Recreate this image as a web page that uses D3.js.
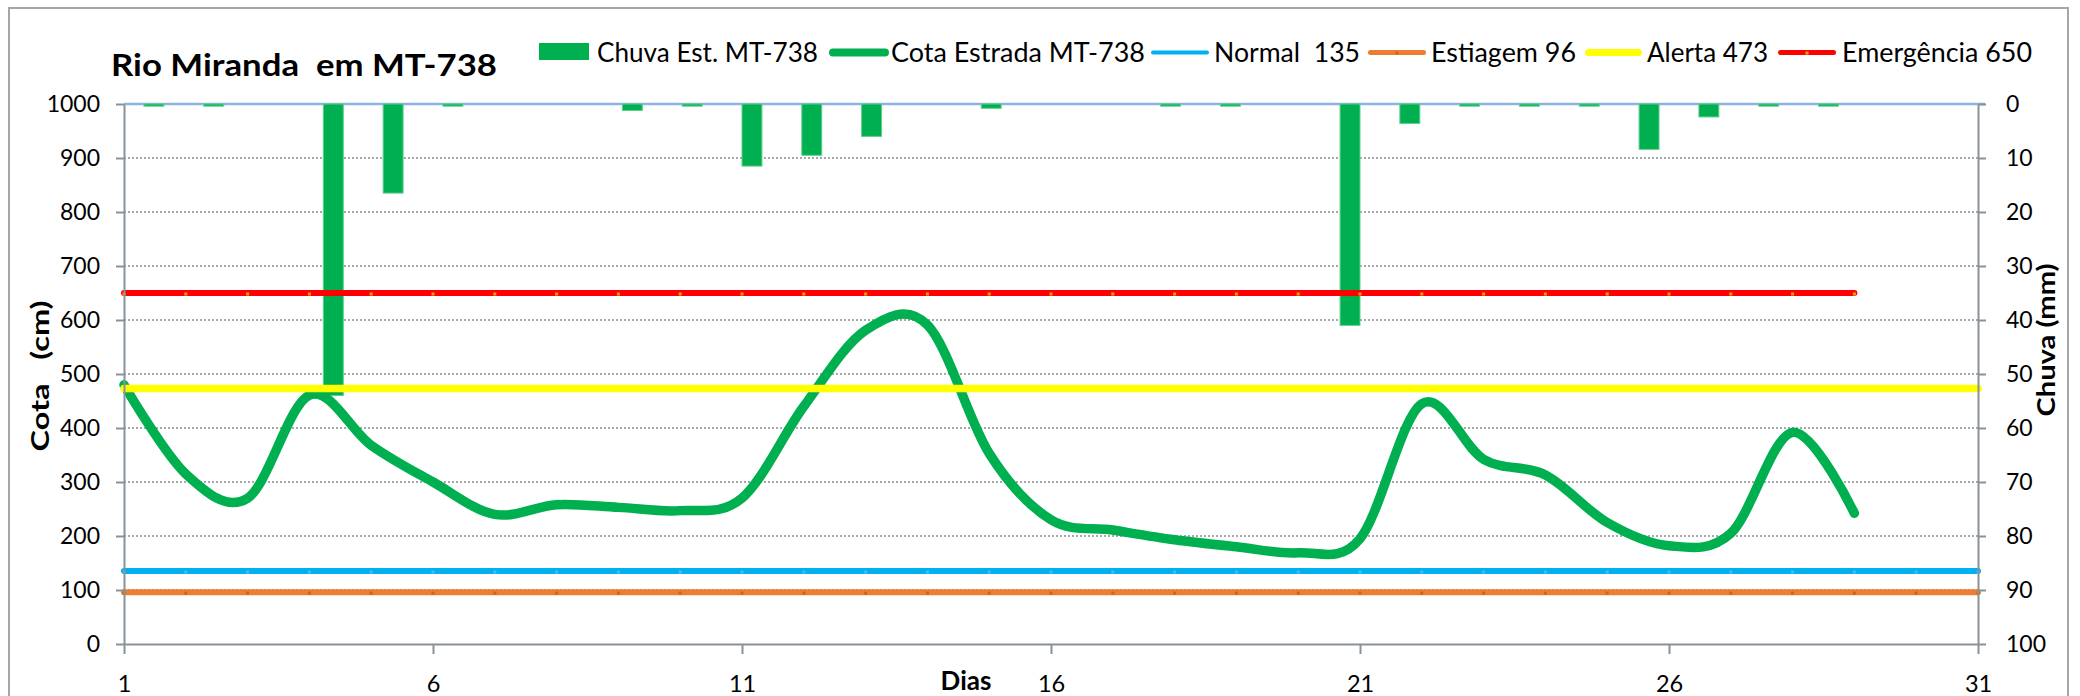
<!DOCTYPE html>
<html>
<head>
<meta charset="utf-8">
<script src="https://cdn.jsdelivr.net/npm/d3@7"></script>
<style>
html, body { margin: 0; padding: 0; background: #ffffff; }
svg { display: block; }
text { font-family: Lato, "Open Sans", "Liberation Sans", sans-serif; fill: #000; }
</style>
</head>
<body>
<svg id="chart" width="2080" height="696"></svg>
<script>
// ---------------- data ----------------
const dias = [1,2,3,4,5,6,7,8,9,10,11,12,13,14,15,16,17,18,19,20,21,22,23,24,25,26,27,28,29,30,31];
// Cota Estrada MT-738 (cm), days 1..29
const cota = [480,315,270,461,368,300,240,258,253,247,270,440,581,591,353,230,211,193,180,169,195,445,342,313,225,182,205,392,242];
// Chuva Est. MT-738 (mm), days 1..31
const chuva = [0.4,0.4,0,54,16.5,0.4,0,0,1.2,0.4,11.5,9.5,6,0,0.8,0,0,0.4,0.4,0,41,3.6,0.4,0.4,0.4,8.4,2.4,0.4,0.4,0,0];
// threshold series
const limiarNomes = ["Normal  135","Estiagem 96","Alerta 473","Emergência 650"];
const limiarValores = [135, 96, 473, 650];
const limiarUltimoDia = [31, 31, 31, 29];
// legend / axis labels
const serieNomes = ["Chuva Est. MT-738","Cota Estrada MT-738"];
const ticksCota = [0,100,200,300,400,500,600,700,800,900,1000];
const ticksChuva = [0,10,20,30,40,50,60,70,80,90,100];
const ticksDias = [1,6,11,16,21,26,31];
const titulo = "Rio Miranda  em MT-738";

// ---------------- layout ----------------
const L = 124, R = 1978, T = 104, B = 644;
const svg = d3.select("#chart");
svg.append("rect").attr("x",0).attr("y",0).attr("width",2080).attr("height",696).attr("fill","#fff");
// outer chart border
svg.append("rect").attr("x",9).attr("y",8).attr("width",2059).attr("height",740)
  .attr("fill","none").attr("stroke","#a6a6a6").attr("stroke-width",2);

const x = d3.scaleLinear().domain([1,31]).range([L,R]);
const xb = d3.scaleBand().domain(dias).range([L,R]).paddingInner(2/3).paddingOuter(1/3);
const yL = d3.scaleLinear().domain([0,1000]).range([B,T]);
const yR = d3.scaleLinear().domain([0,100]).range([T,B]);

const axisColor = "#8a9299";

// gridlines
svg.append("g").selectAll("line").data(ticksCota.filter(d => d > 0 && d < 1000)).join("line")
  .attr("x1", L).attr("x2", R).attr("y1", d => yL(d)).attr("y2", d => yL(d))
  .attr("stroke","#8c8c8c").attr("stroke-width",1.6).attr("stroke-dasharray","2,2");

// top secondary axis line (light blue)
svg.append("line").attr("x1", L).attr("x2", R + 7).attr("y1", yL(1000)).attr("y2", yL(1000))
  .attr("stroke","#8db4e2").attr("stroke-width",2.6);

// bars (rain, hanging from top)
svg.append("g").selectAll("rect").data(dias.map((d,i) => ({d, v: chuva[i]})).filter(o => o.v > 0)).join("rect")
  .attr("x", o => xb(o.d)).attr("width", xb.bandwidth())
  .attr("y", yR(0)).attr("height", o => yR(o.v) - yR(0))
  .attr("fill","#00b050").attr("stroke","#5ccf8c").attr("stroke-width",1);

// cota line (Excel-like smoothing = uniform Catmull-Rom)
const lineGen = d3.line().x((d,i) => x(dias[i])).y(d => yL(d)).curve(d3.curveCardinal.tension(0));
svg.append("path").datum(cota).attr("d", lineGen)
  .attr("fill","none").attr("stroke","#00b050").attr("stroke-width",9.5)
  .attr("stroke-linecap","round").attr("stroke-linejoin","round");

// thresholds
const limiarCores = ["#00b0f0","#ed7d31","#ffff00","#ff0000"];
const limiarLarg = [6,6,7.5,6];
const limiarMarc = ["#3cc0f4","#d9620e","#ffff00","#e8a800"];
limiarValores.forEach((v,k) => {
  const g = svg.append("g");
  const ds = dias.filter(d => d <= limiarUltimoDia[k]);
  g.append("line").attr("x1", x(1)).attr("x2", x(limiarUltimoDia[k])).attr("y1", yL(v)).attr("y2", yL(v))
    .attr("stroke", limiarCores[k]).attr("stroke-width", limiarLarg[k]).attr("stroke-linecap","round");
  g.selectAll("rect").data(ds).join("rect")
    .attr("x", d => x(d) - 1.5).attr("y", yL(v) - 0.5).attr("width",3).attr("height",3)
    .attr("fill", limiarMarc[k]);
});

// ---------------- axes ----------------
const axL = svg.append("g").attr("transform",`translate(${L},0)`)
  .call(d3.axisLeft(yL).tickValues(ticksCota).tickSize(8).tickSizeOuter(0).tickPadding(16).tickFormat(d3.format("d")));
const axR = svg.append("g").attr("transform",`translate(${R},0)`)
  .call(d3.axisRight(yR).tickValues(ticksChuva).tickSize(8).tickSizeOuter(0).tickPadding(20).tickFormat(d3.format("d")));
const axB = svg.append("g").attr("transform",`translate(0,${B})`)
  .call(d3.axisBottom(x).tickValues(ticksDias).tickSize(10).tickSizeOuter(0).tickPadding(21).tickFormat(d3.format("d")));
[axL, axR, axB].forEach(a => {
  a.select(".domain").attr("stroke", axisColor).attr("stroke-width", 2);
  a.selectAll(".tick line").attr("stroke", axisColor).attr("stroke-width", 2);
  a.selectAll(".tick text").attr("font-family","Lato, sans-serif").attr("font-size", 23).attr("fill","#000");
});
axB.selectAll(".tick text").attr("font-size", 23.5);

// axis titles
svg.append("text").attr("transform","translate(49,376) rotate(-90)")
  .attr("text-anchor","middle").attr("font-weight","bold").attr("font-size",25)
  .style("white-space","pre").attr("textLength",151).attr("lengthAdjust","spacingAndGlyphs")
  .text("Cota   (cm)");
svg.append("text").attr("transform","translate(2055,340) rotate(-90)")
  .attr("text-anchor","middle").attr("font-weight","bold").attr("font-size",25)
  .attr("textLength",153).attr("lengthAdjust","spacingAndGlyphs")
  .text("Chuva (mm)");
svg.append("text").attr("x",966).attr("y",690)
  .attr("text-anchor","middle").attr("font-weight","bold").attr("font-size",26)
  .text("Dias");

// title
svg.append("text").attr("x",111).attr("y",76).attr("font-weight","bold").attr("font-size",30)
  .style("white-space","pre").attr("textLength",386).attr("lengthAdjust","spacingAndGlyphs")
  .text(titulo);

// ---------------- legend ----------------
const legY = 52.5, legBase = 61.5, legFs = 26;
const legItems = [
  {tipo:"bar",  sx1:539, sx2:589, tx:597, tw:221, cor:"#00b050", nome: serieNomes[0]},
  {tipo:"line", sx1:829, sx2:889, tx:891, tw:254, cor:"#00b050", w:8, nome: serieNomes[1]},
  {tipo:"line", sx1:1151, sx2:1209, tx:1214, tw:146, cor:limiarCores[0], w:4, nome: limiarNomes[0]},
  {tipo:"line", sx1:1368, sx2:1426, tx:1431, tw:145, cor:limiarCores[1], w:5, nome: limiarNomes[1], m:limiarMarc[1]},
  {tipo:"line", sx1:1585, sx2:1642, tx:1647, tw:121, cor:limiarCores[2], w:7, nome: limiarNomes[2]},
  {tipo:"line", sx1:1778, sx2:1836, tx:1842, tw:190, cor:limiarCores[3], w:5, nome: limiarNomes[3], m:limiarMarc[3]}
];
const leg = svg.append("g");
legItems.forEach(it => {
  if (it.tipo === "bar") {
    leg.append("rect").attr("x", it.sx1).attr("y", 43).attr("width", it.sx2 - it.sx1).attr("height", 17).attr("fill", it.cor);
  } else {
    leg.append("line").attr("x1", it.sx1 + it.w/2).attr("x2", it.sx2 - it.w/2).attr("y1", legY).attr("y2", legY)
      .attr("stroke", it.cor).attr("stroke-width", it.w).attr("stroke-linecap","round");
    if (it.m) {
      const cx = (it.sx1 + it.sx2) / 2;
      leg.append("rect").attr("x", cx - 1.5).attr("y", legY - 1).attr("width",3).attr("height",3).attr("fill", it.m);
    }
  }
  leg.append("text").attr("x", it.tx).attr("y", legBase).attr("font-size", legFs)
    .style("white-space","pre").attr("textLength", it.tw).attr("lengthAdjust","spacingAndGlyphs")
    .text(it.nome);
});
</script>
</body>
</html>
